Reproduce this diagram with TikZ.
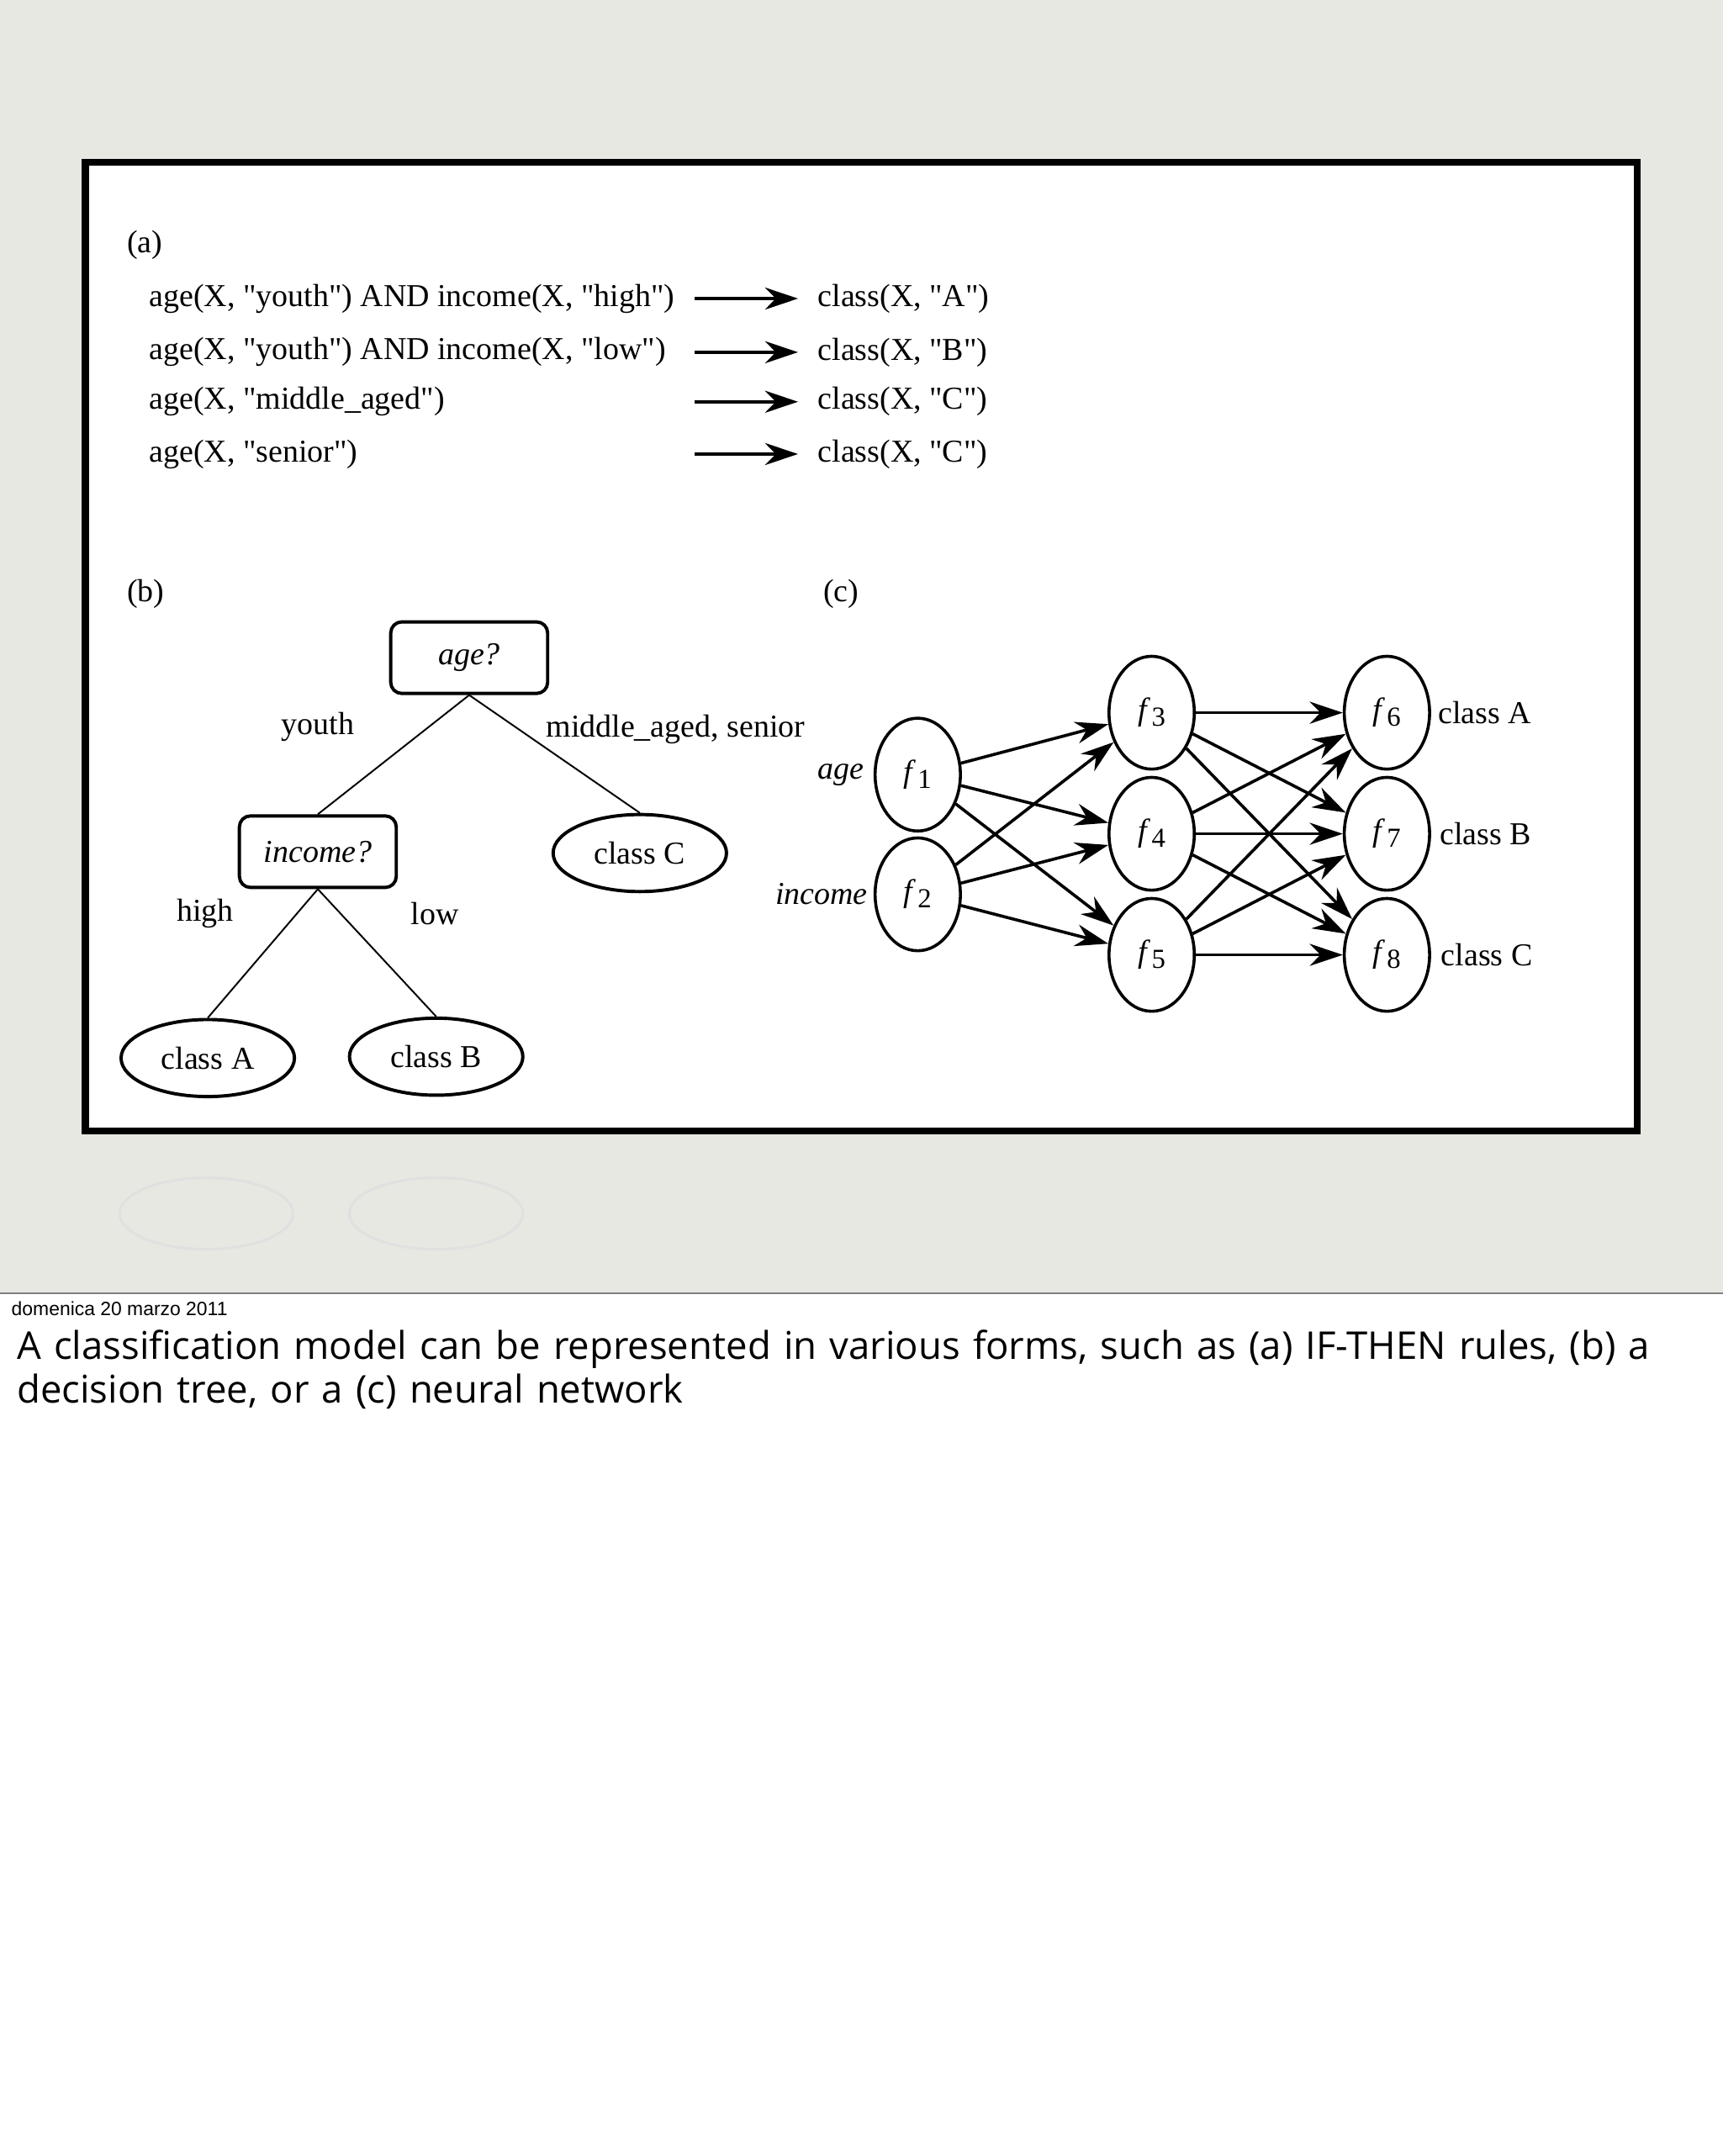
\documentclass[tikz,border=0pt]{standalone}
\usepackage{fontspec}
\setmainfont{Liberation Serif}
\newfontfamily\capfont{Open Sans}
\newfontfamily\datefont{Liberation Sans}
\usetikzlibrary{shapes.geometric,arrows.meta}
\newcommand{\q}{\textquotedbl}
\newcommand{\fs}[1]{\textit{f}\kern0.5pt\raisebox{-2pt}{\fontsize{10}{11}\selectfont #1}}
\begin{document}
\begin{tikzpicture}[x=0.5pt,y=-0.5pt,
  t/.style={font=\fontsize{11.6}{13}\selectfont,inner sep=0pt},
  rbox/.style={draw,line width=1.2pt,rounded corners=4pt,minimum width=57pt,minimum height=26pt,font=\fontsize{11.6}{13}\selectfont\itshape},
  ell/.style={draw,ellipse,line width=1.2pt,minimum width=63pt,minimum height=28pt,font=\fontsize{11.6}{13}\selectfont},
  neu/.style={draw,ellipse,line width=1.1pt,minimum width=31pt,minimum height=41pt,inner sep=0pt,font=\fontsize{11.6}{13}\selectfont},
  ar/.style={-{Stealth[length=12pt,width=8pt]},line width=1.1pt},
  ln/.style={line width=0.6pt}]
\useasboundingbox (0,0) rectangle (1252,1567);
\fill[white] (0,0) rectangle (1252,1567);
\fill[fill={rgb,255:red,232;green,232;blue,227}] (0,0) rectangle (1252,940);
\draw[gray,line width=0.5pt] (0,940) -- (1252,940);
% reflection
\draw[black!12,line width=1pt] (150,882) ellipse (63 and 26);
\draw[black!12,line width=1pt] (317,882) ellipse (63 and 26);
% panel
\fill[white] (62,118) rectangle (1190,822);
\draw[line width=2.5pt] (62,118) rectangle (1190,822);
% (a)
\node[t,anchor=west] (la) at (92,178) {(a)};
\foreach \y/\l/\r [count=\i] in {217/{age(X, \q youth\q) AND income(X, \q high\q)}/{class(X, \q A\q)},
  256/{age(X, \q youth\q) AND income(X, \q low\q)}/{class(X, \q B\q)},
  292/{age(X, \q middle\_aged\q)}/{class(X, \q C\q)},
  330/{age(X, \q senior\q)}/{class(X, \q C\q)}}{
  \node[t,anchor=west] (l\i) at (108,\y) {\l};
  \node[t,anchor=west] (r\i) at (594,\y) {\r};
  \coordinate (s\i) at (505,\y);
  \coordinate (e\i) at (580,\y);
  \draw[ar] (s\i) -- (e\i);
}
% (b)
\node[t,anchor=west] (lb) at (92,432) {(b)};
\node[rbox] (age) at (341,478) {age?};
\node[rbox] (inc) at (231,619) {income?};
\node[ell] (cC) at (465,620) {class C};
\node[ell] (cA) at (151,769) {class A};
\node[ell] (cB) at (317,768) {class B};
\draw[ln] (age.south) -- (inc.north);
\draw[ln] (age.south) -- (cC.north);
\draw[ln] (inc.south) -- (cA.north);
\draw[ln] (inc.south) -- (cB.north);
\node[t] (ly) at (231,528) {youth};
\node[t] (lm) at (491,530) {middle\_aged, senior};
\node[t] (lh) at (149,664) {high};
\node[t] (ll) at (316,664) {low};
% (c)
\node[t,anchor=west] (lc) at (598,432) {(c)};
\node[neu] (f1) at (667,563) {\fs{1}};
\node[neu] (f2) at (667,650) {\fs{2}};
\node[neu] (f3) at (837,518) {\fs{3}};
\node[neu] (f4) at (837,606) {\fs{4}};
\node[neu] (f5) at (837,694) {\fs{5}};
\node[neu] (f6) at (1008,518) {\fs{6}};
\node[neu] (f7) at (1008,606) {\fs{7}};
\node[neu] (f8) at (1008,694) {\fs{8}};
\node[t,font=\fontsize{11.6}{13}\selectfont\itshape] (nage) at (611,563) {age};
\node[t,font=\fontsize{11.6}{13}\selectfont\itshape] (ninc) at (597,650) {income};
\node[t,anchor=west] (nA) at (1045,518) {class A};
\node[t,anchor=west] (nB) at (1046,606) {class B};
\node[t,anchor=west] (nC) at (1047,694) {class C};
\foreach \a in {1,2}{\foreach \b in {3,4,5}{\draw[ar] (f\a) -- (f\b);}}
\foreach \a in {3,4,5}{\foreach \b in {6,7,8}{\draw[ar] (f\a) -- (f\b);}}
% footer
\node[anchor=west,inner sep=0pt,font=\datefont\fontsize{7}{8}\selectfont] (date) at (8,951) {domenica 20 marzo 2011};
\node[anchor=north west,inner sep=0pt,align=left,text width=610pt,font=\capfont\fontsize{13.9}{16}\selectfont] (cap) at (12,966)
 {A classification model can be represented in various forms, such as (a) IF-THEN rules, (b) a decision tree, or a (c) neural network};
\end{tikzpicture}
\end{document}
